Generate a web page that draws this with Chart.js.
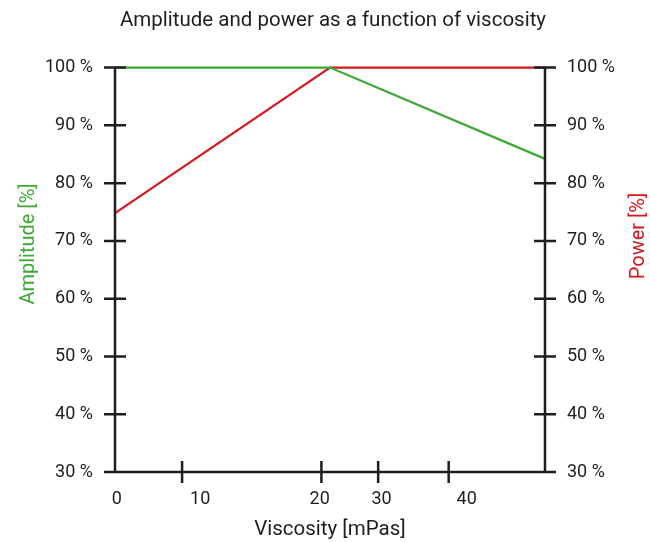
<!DOCTYPE html>
<html>
<head>
<meta charset="utf-8">
<script src="https://cdn.jsdelivr.net/npm/chart.js@4.4.1/dist/chart.umd.min.js"></script>
<style>
    html, body { margin: 0; padding: 0; background: #fff; }
    #wrap { width: 650px; height: 542px; }
</style>
</head>
<body>
<div id="wrap"><canvas id="viscosityChart" width="650" height="542"></canvas></div>
<script>
// Chart data
const viscosity = [0, 25, 50];
const amplitude = [100, 100, 84.2];
const power = [74.8, 100, 100];

// x tick labels and where they sit, plus where the tick marks are drawn
const xTickLabels = ['0', '10', '20', '30', '40'];
const xTickLabelPos = [0.2, 9.9, 23.8, 31, 40.9];
const xTickMarks = [7.8, 24, 30.6, 38.8];
const yTicks = [30, 40, 50, 60, 70, 80, 90, 100];

const GREEN = '#3da935';
const RED = '#d5171e';
const INK = '#1e1e1e';
const FONT = 'Roboto, "Open Sans", sans-serif';

// Draws the black axis lines with ticks crossing them, and the vertical axis titles
const crossAxes = {
    id: 'crossAxes',
    afterDraw(chart) {
        const ctx = chart.ctx;
        const area = chart.chartArea;
        const x = chart.scales.x;
        const yl = chart.scales.y;
        const yr = chart.scales.y2;
        const half = 11;
        ctx.save();
        ctx.strokeStyle = INK;
        ctx.lineWidth = 2.5;
        ctx.lineCap = 'butt';
        ctx.beginPath();
        // axis lines
        ctx.moveTo(area.left - half, area.bottom);
        ctx.lineTo(area.right + half, area.bottom);
        ctx.moveTo(area.left, area.top);
        ctx.lineTo(area.left, area.bottom);
        ctx.moveTo(area.right, area.top);
        ctx.lineTo(area.right, area.bottom);
        // y ticks
        yTicks.forEach(v => {
            const py = yl.getPixelForValue(v);
            ctx.moveTo(area.left - half, py);
            ctx.lineTo(area.left + half, py);
            const pr = yr.getPixelForValue(v);
            ctx.moveTo(area.right - half, pr);
            ctx.lineTo(area.right + half, pr);
        });
        // x ticks
        xTickMarks.forEach(v => {
            const px = x.getPixelForValue(v);
            ctx.moveTo(px, area.bottom - half);
            ctx.lineTo(px, area.bottom + half);
        });
        ctx.stroke();

        // axis titles, both read bottom to top
        ctx.font = '20px ' + FONT;
        ctx.textAlign = 'center';
        ctx.textBaseline = 'middle';
        [['Amplitude [%]', GREEN, 29, 244], ['Power [%]', RED, 639, 236]].forEach(([txt, col, tx, ty]) => {
            ctx.save();
            ctx.translate(tx, ty);
            ctx.rotate(-Math.PI / 2);
            ctx.fillStyle = col;
            ctx.fillText(txt, 0, 0);
            ctx.restore();
        });
        ctx.restore();
    }
};

const ctx = document.getElementById('viscosityChart');

new Chart(ctx, {
    type: 'line',
    data: {
        datasets: [
            {
                label: 'Amplitude',
                data: viscosity.map((v, i) => ({ x: v, y: amplitude[i] })),
                borderColor: GREEN,
                borderWidth: 2.2,
                pointRadius: 0,
                clip: 4,
                yAxisID: 'y'
            },
            {
                label: 'Power',
                data: viscosity.map((v, i) => ({ x: v, y: power[i] })),
                borderColor: RED,
                borderWidth: 2.2,
                pointRadius: 0,
                clip: 4,
                yAxisID: 'y2'
            }
        ]
    },
    options: {
        responsive: false,
        animation: false,
        layout: { padding: { top: 4, left: 16, right: 0, bottom: 0 } },
        plugins: {
            legend: { display: false },
            tooltip: { enabled: false },
            title: {
                display: true,
                text: 'Amplitude and power as a function of viscosity',
                color: INK,
                font: { family: FONT, size: 20.5, weight: 'normal' },
                padding: { top: 5, bottom: 34 }
            }
        },
        scales: {
            x: {
                type: 'linear',
                min: 0,
                max: 50,
                afterBuildTicks(scale) {
                    scale.ticks = xTickLabelPos.map(v => ({ value: v }));
                },
                afterFit(scale) { scale.height = 70; },
                ticks: {
                    color: INK,
                    font: { family: FONT, size: 18 },
                    padding: 9,
                    maxRotation: 0,
                    autoSkip: false,
                    callback: (v, i) => xTickLabels[i]
                },
                grid: { display: false },
                border: { display: false },
                title: {
                    display: true,
                    text: 'Viscosity [mPas]',
                    color: INK,
                    font: { family: FONT, size: 20.5 },
                    padding: { top: 4, bottom: 0 }
                }
            },
            y: {
                position: 'left',
                min: 30,
                max: 100,
                afterBuildTicks(scale) {
                    scale.ticks = yTicks.map(v => ({ value: v }));
                },
                afterFit(scale) { scale.width = 99; },
                ticks: {
                    color: INK,
                    font: { family: FONT, size: 18 },
                    padding: 14,
                    callback: v => v + ' %'
                },
                grid: { display: false },
                border: { display: false }
            },
            y2: {
                position: 'right',
                min: 30,
                max: 100,
                afterBuildTicks(scale) {
                    scale.ticks = yTicks.map(v => ({ value: v }));
                },
                afterFit(scale) { scale.width = 105; },
                ticks: {
                    color: INK,
                    font: { family: FONT, size: 18 },
                    padding: 14,
                    callback: v => v + ' %'
                },
                grid: { display: false },
                border: { display: false }
            }
        }
    },
    plugins: [crossAxes]
});
</script>
</body>
</html>
